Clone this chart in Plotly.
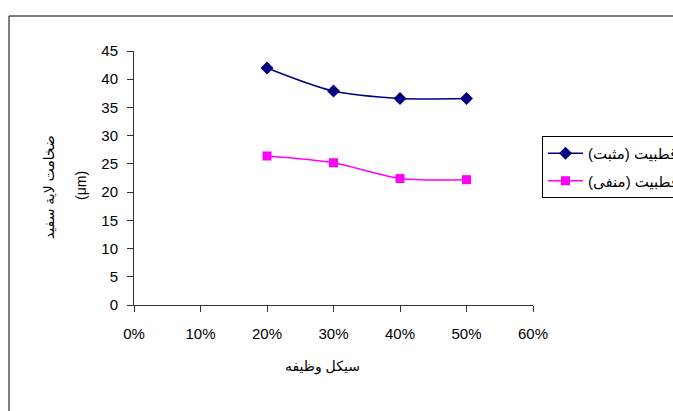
import plotly.graph_objects as go

# Duty cycle (fraction) on the x axis
duty_cycle = [0.20, 0.30, 0.40, 0.50]

# White-layer thickness (µm) for each polarity
positive_polarity = [42.0, 37.9, 36.6, 36.6]
negative_polarity = [26.4, 25.2, 22.4, 22.2]

series_names = ["قطبيت (مثبت)", "قطبيت (منفی)"]
x_title = "سيكل وظيفه"
y_title_lines = ["ضخامت لاية سفيد", "(μm)"]

W, H = 673, 411
L, R, T, B = 134, 140, 51, 106
pw, ph = W - L - R, H - T - B

def px_x(p):
    return (p - L) / pw

def px_y(p):
    return (H - B - p) / ph

font_family = "Liberation Sans, Arial, DejaVu Sans, sans-serif"

fig = go.Figure()
fig.add_trace(go.Scatter(
    x=duty_cycle, y=positive_polarity, name=series_names[0],
    mode="lines+markers", line=dict(color="#000080", width=1.5, shape="spline", smoothing=0.8),
    marker=dict(symbol="diamond", size=10, color="#000080"),
    legendgroup="a",
))
fig.add_trace(go.Scatter(
    x=duty_cycle, y=negative_polarity, name=series_names[1],
    mode="lines+markers", line=dict(color="#FF00FF", width=1.5, shape="spline", smoothing=0.8),
    marker=dict(symbol="square", size=9, color="#FF00FF"),
    legendgroup="b",
))

axis_common = dict(
    showgrid=False, zeroline=False, showline=True, linecolor="#333333", linewidth=1,
    ticks="outside", ticklen=6, tickcolor="#333333", tickwidth=1,
    tickfont=dict(family=font_family, size=15, color="#000000"),
)

fig.update_xaxes(range=[0, 0.6], tickvals=[0, 0.1, 0.2, 0.3, 0.4, 0.5, 0.6],
                 tickformat=".0%", ticklabelstandoff=9, **axis_common)
fig.update_yaxes(range=[0, 45], dtick=5, ticklabelstandoff=6, **axis_common)

annotations = [
    dict(text=x_title, x=px_x(322), y=px_y(377), xref="paper", yref="paper",
         showarrow=False, font=dict(family=font_family, size=14, color="#000")),
    dict(text=y_title_lines[0], x=px_x(39), y=px_y(187), xref="paper", yref="paper",
         textangle=-90, showarrow=False, font=dict(family=font_family, size=14, color="#000")),
    dict(text=y_title_lines[1], x=px_x(71), y=px_y(186), xref="paper", yref="paper",
         textangle=-90, showarrow=False, font=dict(family=font_family, size=14, color="#000")),
]

# Outer chart frame
shapes = [dict(type="rect", xref="paper", yref="paper",
               x0=px_x(9), x1=px_x(W + 50), y0=px_y(H + 50), y1=px_y(16),
               line=dict(color="#000", width=1), fillcolor="rgba(0,0,0,0)", layer="below")]

fig.update_layout(
    width=W, height=H,
    margin=dict(l=L, r=R, t=T, b=B, autoexpand=False),
    paper_bgcolor="white", plot_bgcolor="white",
    showlegend=True,
    legend=dict(x=px_x(542), y=px_y(136), xanchor="left", yanchor="top",
                bordercolor="#000", borderwidth=1, bgcolor="white",
                font=dict(family=font_family, size=15, color="#000"),
                tracegroupgap=5, itemwidth=35),
    annotations=annotations, shapes=shapes,
    hovermode=False,
)

fig.write_html("out.html")
